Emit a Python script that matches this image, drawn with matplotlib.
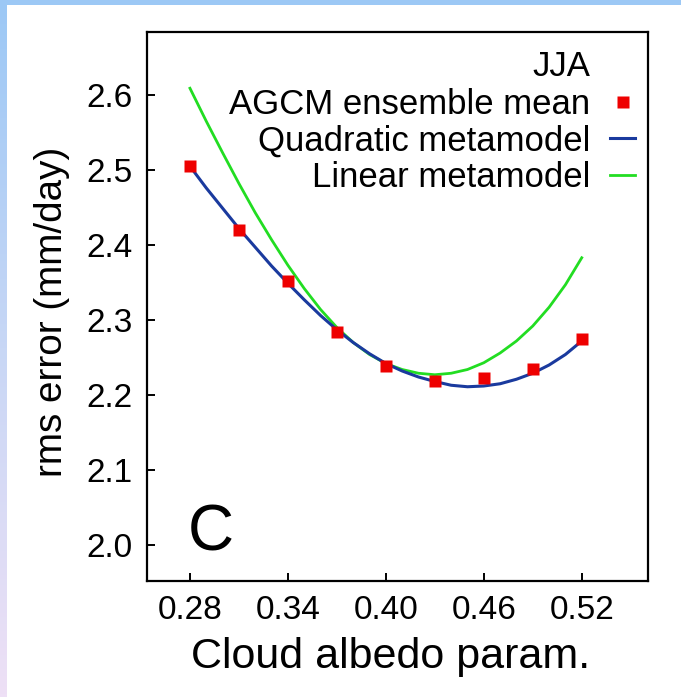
import numpy as np
import matplotlib
matplotlib.use("Agg")
import matplotlib.pyplot as plt
from matplotlib.patches import Rectangle

plt.rcParams['font.family'] = ['Liberation Sans', 'DejaVu Sans']

# AGCM ensemble mean (red squares)
param = [0.28, 0.31, 0.34, 0.37, 0.40, 0.43, 0.46, 0.49, 0.52]
rms_mean = [2.505, 2.420, 2.352, 2.284, 2.239, 2.219, 2.222, 2.235, 2.274]

# metamodel curves, every 0.01
curve_x = [0.28, 0.29, 0.30, 0.31, 0.32, 0.33, 0.34, 0.35, 0.36, 0.37, 0.38, 0.39, 0.40,
           0.41, 0.42, 0.43, 0.44, 0.45, 0.46, 0.47, 0.48, 0.49, 0.50, 0.51, 0.52]
quad_y = [2.505, 2.476, 2.449, 2.422, 2.397, 2.372, 2.349, 2.327, 2.306, 2.287, 2.270, 2.255, 2.242,
          2.232, 2.224, 2.218, 2.213, 2.211, 2.212, 2.215, 2.221, 2.229, 2.240, 2.254, 2.272]
lin_y = [2.609, 2.565, 2.523, 2.482, 2.443, 2.407, 2.373, 2.342, 2.314, 2.290, 2.270, 2.254, 2.242,
         2.234, 2.229, 2.227, 2.229, 2.234, 2.243, 2.256, 2.272, 2.292, 2.317, 2.347, 2.383]

x_ticks = [0.28, 0.34, 0.40, 0.46, 0.52]
y_ticks = [2.0, 2.1, 2.2, 2.3, 2.4, 2.5, 2.6]

W, H = 681, 697
fig = plt.figure(figsize=(W / 100, H / 100), dpi=100)
fig.patch.set_facecolor('white')

# slide-like frame: blue strip on top, gradient strip on the left
bg = fig.add_axes([0, 0, 1, 1], zorder=-5)
bg.set_xlim(0, W)
bg.set_ylim(H, 0)
bg.axis('off')
top_c = np.array([156, 200, 245]) / 255
mid_c = np.array([200, 215, 245]) / 255
bot_c = np.array([238, 224, 246]) / 255
t = np.linspace(0, 1, 200)[:, None]
grad = np.where(t < 0.5, top_c + (mid_c - top_c) * (t / 0.5), mid_c + (bot_c - mid_c) * ((t - 0.5) / 0.5))
bg.imshow(grad[:, None, :], extent=(0, 7, H, 0), aspect='auto')
bg.add_patch(Rectangle((0, 0), W, 5, color=top_c, lw=0))

ax = fig.add_axes([146.7 / W, 1 - 580.7 / H, 501 / W, 549 / H])

ax.plot(curve_x, lin_y, color='#22dd22', lw=2.0, label='Linear metamodel', zorder=2)
ax.plot(curve_x, quad_y, color='#1a3a9e', lw=2.2, label='Quadratic metamodel', zorder=3)
ax.plot(param, rms_mean, 's', color='#ee0000', ms=8.3, mec='none', label='AGCM ensemble mean', zorder=4)

ax.set_xlim(0.2535, 0.5604)
ax.set_ylim(1.9524, 2.6844)
ax.set_xticks(x_ticks)
ax.set_xticklabels([f'{v:.2f}' for v in x_ticks])
ax.set_yticks(y_ticks)
ax.set_yticklabels([f'{v:.1f}' for v in y_ticks])
ax.tick_params(direction='in', length=5.5, width=1.4, labelsize=24, pad=10, top=False, right=False)
for s in ax.spines.values():
    s.set_linewidth(1.6)

ax.set_xlabel('Cloud albedo param.', fontsize=31, labelpad=8)
ax.xaxis.label.set_x(0.486)
ax.set_ylabel('rms error (mm/day)', fontsize=27.8, labelpad=12)
ax.yaxis.label.set_y(0.49)

ax.text(0.2785, 2.015, 'C', fontsize=46, ha='left', va='center')

handles, labels = ax.get_legend_handles_labels()
order = [2, 1, 0]
leg = ax.legend([handles[i] for i in order], [labels[i] for i in order],
                loc='upper right', bbox_to_anchor=(0.9747, 0.8975), frameon=False,
                markerfirst=False, fontsize=25, handlelength=0.72, handletextpad=0.58,
                labelspacing=0.1, borderpad=0, borderaxespad=0)
ax.text(0.885, 0.936, 'JJA', transform=ax.transAxes, fontsize=25, ha='right', va='center')

fig.savefig('out.png', dpi=100, facecolor=fig.get_facecolor())
